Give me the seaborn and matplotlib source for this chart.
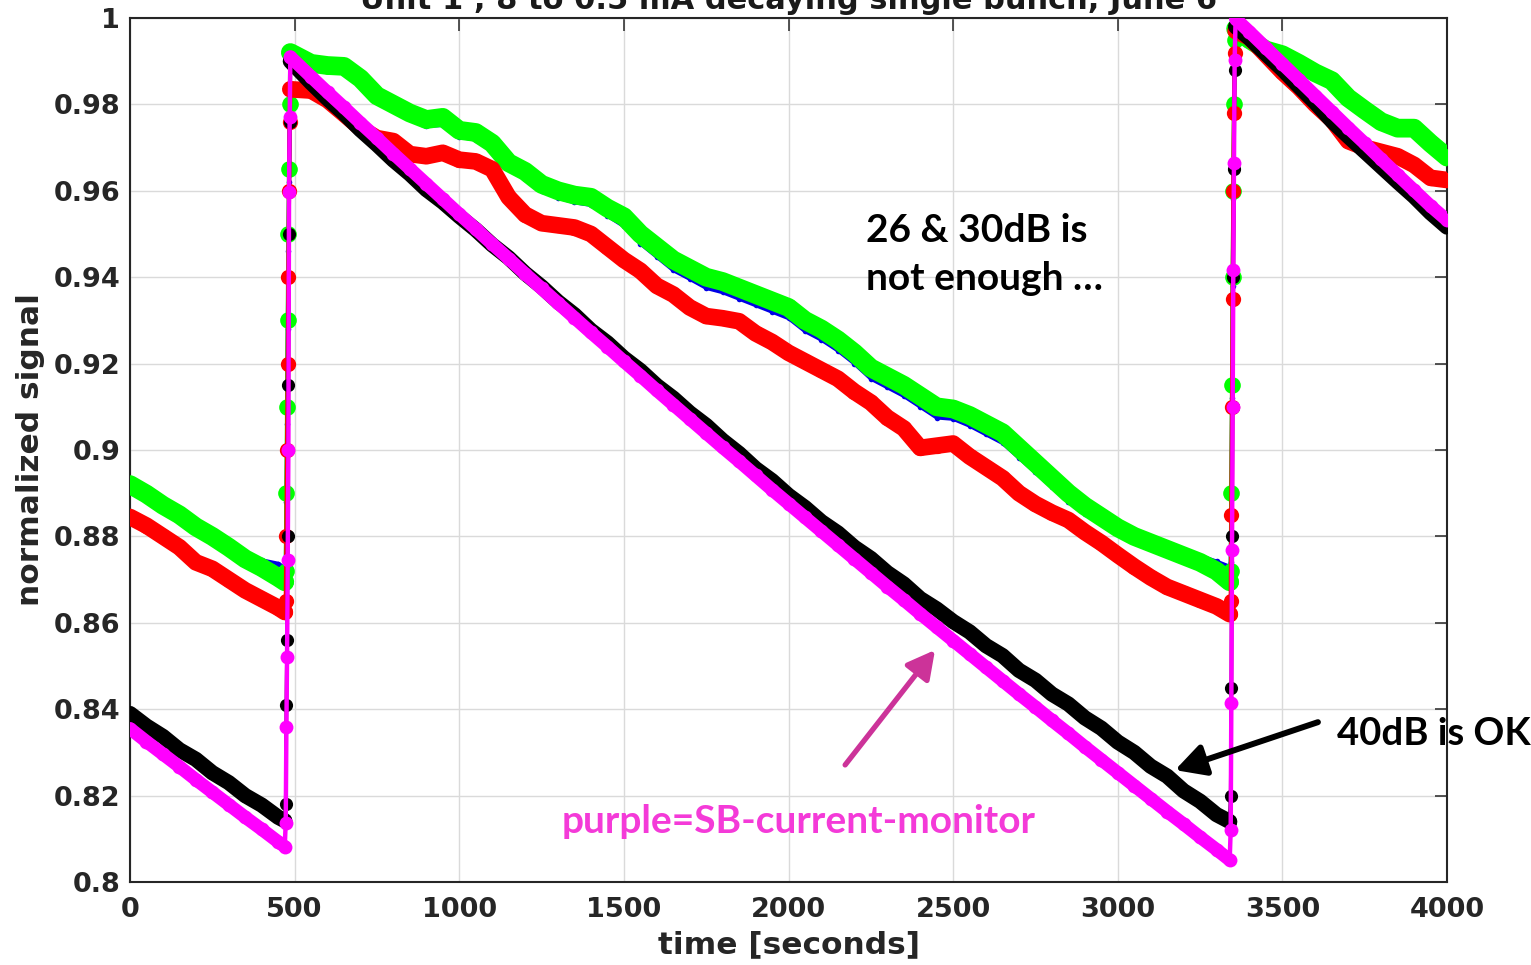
import numpy as np
import pandas as pd
import matplotlib
matplotlib.use("Agg")
import matplotlib.pyplot as plt
from matplotlib.ticker import FuncFormatter
import seaborn as sns

# ---------------- data ----------------
# sample times [s]: three decays separated by two injections
t_decay1 = [0, 50, 100, 150, 200, 250, 300, 350, 400, 450, 470]
t_inj1 = [473, 475, 477, 479, 481, 483, 485]
t_decay2 = [487] + list(range(550, 3301, 50)) + [3340]
t_inj2 = [3343, 3345, 3347, 3349, 3351, 3353, 3355]
t_decay3 = [3358] + list(range(3400, 4001, 50))

sig_blue = (
    [0.8905, 0.8884, 0.8862, 0.8840, 0.8820, 0.8800, 0.8780, 0.8762, 0.8745, 0.8737, 0.8728]
    + [0.8740, 0.8880, 0.9060, 0.9280, 0.9460, 0.9620, 0.9790]
    + [0.9915, 0.9885, 0.9878, 0.9872, 0.9845, 0.9808, 0.9787, 0.9766, 0.9750, 0.9752,
       0.9725, 0.9718, 0.9694, 0.9650, 0.9628, 0.9600, 0.9584, 0.9573, 0.9567, 0.9542,
       0.9518, 0.9478, 0.9447, 0.9416, 0.9396, 0.9375, 0.9365, 0.9350, 0.9335, 0.9320,
       0.9305, 0.9275, 0.9255, 0.9230, 0.9200, 0.9165, 0.9145, 0.9125, 0.9100, 0.9075,
       0.9072, 0.9056, 0.9036, 0.9016, 0.8982, 0.8948, 0.8914, 0.8880, 0.8852, 0.8830,
       0.8810, 0.8795, 0.8785, 0.8775, 0.8765, 0.8755, 0.8742, 0.8730]
    + [0.8740, 0.8900, 0.9120, 0.9380, 0.9580, 0.9780, 0.9940]
    + [0.9970, 0.9942, 0.9918, 0.9905, 0.9886, 0.9864, 0.9845, 0.9806, 0.9778, 0.9752,
       0.9736, 0.9735, 0.9700, 0.9668]
)

sig_green = (
    [0.8920, 0.8898, 0.8872, 0.8850, 0.8822, 0.8800, 0.8775, 0.8748, 0.8728, 0.8705, 0.8695]
    + [0.8720, 0.8900, 0.9100, 0.9300, 0.9500, 0.9650, 0.9800]
    + [0.9920, 0.9895, 0.9890, 0.9888, 0.9860, 0.9820, 0.9800, 0.9780, 0.9765, 0.9770,
       0.9740, 0.9735, 0.9710, 0.9665, 0.9645, 0.9615, 0.9600, 0.9590, 0.9585, 0.9560,
       0.9540, 0.9500, 0.9470, 0.9440, 0.9420, 0.9400, 0.9390, 0.9375, 0.9360, 0.9345,
       0.9330, 0.9300, 0.9280, 0.9255, 0.9225, 0.9190, 0.9170, 0.9150, 0.9125, 0.9100,
       0.9095, 0.9080, 0.9060, 0.9040, 0.9005, 0.8970, 0.8935, 0.8900, 0.8870, 0.8845,
       0.8820, 0.8800, 0.8785, 0.8770, 0.8755, 0.8740, 0.8720, 0.8695]
    + [0.8720, 0.8900, 0.9150, 0.9400, 0.9600, 0.9800, 0.9950]
    + [0.9975, 0.9950, 0.9926, 0.9915, 0.9895, 0.9873, 0.9855, 0.9815, 0.9787, 0.9760,
       0.9745, 0.9745, 0.9710, 0.9678]
)

sig_red = (
    [0.8845, 0.8825, 0.8800, 0.8775, 0.8740, 0.8725, 0.8700, 0.8675, 0.8655, 0.8635, 0.8625]
    + [0.8650, 0.8800, 0.9000, 0.9200, 0.9400, 0.9600, 0.9760]
    + [0.9835, 0.9832, 0.9810, 0.9778, 0.9745, 0.9722, 0.9715, 0.9685, 0.9680, 0.9688,
       0.9672, 0.9668, 0.9650, 0.9585, 0.9545, 0.9525, 0.9520, 0.9515, 0.9500, 0.9470,
       0.9440, 0.9415, 0.9380, 0.9360, 0.9330, 0.9310, 0.9305, 0.9298, 0.9270, 0.9250,
       0.9225, 0.9205, 0.9185, 0.9165, 0.9135, 0.9110, 0.9075, 0.9050, 0.9005, 0.9010,
       0.9015, 0.8985, 0.8960, 0.8935, 0.8900, 0.8875, 0.8855, 0.8838, 0.8810, 0.8785,
       0.8757, 0.8730, 0.8705, 0.8683, 0.8668, 0.8653, 0.8638, 0.8620]
    + [0.8650, 0.8850, 0.9100, 0.9350, 0.9600, 0.9780, 0.9920]
    + [0.9970, 0.9955, 0.9915, 0.9875, 0.9840, 0.9800, 0.9765, 0.9715, 0.9700, 0.9690,
       0.9680, 0.9660, 0.9630, 0.9625]
)

sig_black = (
    [0.8390, 0.8361, 0.8337, 0.8306, 0.8284, 0.8253, 0.8230, 0.8200, 0.8178, 0.8150, 0.8142]
    + [0.8180, 0.8410, 0.8560, 0.8800, 0.9150, 0.9500, 0.9760]
    + [0.9900, 0.9850, 0.9813, 0.9779, 0.9741, 0.9707, 0.9671, 0.9639, 0.9603, 0.9574,
       0.9541, 0.9510, 0.9475, 0.9445, 0.9409, 0.9378, 0.9343, 0.9313, 0.9277, 0.9248,
       0.9213, 0.9184, 0.9149, 0.9120, 0.9086, 0.9057, 0.9022, 0.8992, 0.8957, 0.8929,
       0.8895, 0.8867, 0.8834, 0.8808, 0.8775, 0.8749, 0.8716, 0.8690, 0.8656, 0.8632,
       0.8603, 0.8579, 0.8547, 0.8524, 0.8490, 0.8467, 0.8435, 0.8412, 0.8380, 0.8356,
       0.8324, 0.8300, 0.8268, 0.8245, 0.8211, 0.8187, 0.8156, 0.8140]
    + [0.8200, 0.8450, 0.8800, 0.9100, 0.9400, 0.9650, 0.9880]
    + [0.9980, 0.9953, 0.9917, 0.9881, 0.9842, 0.9804, 0.9762, 0.9726, 0.9691, 0.9656,
       0.9621, 0.9587, 0.9549, 0.9516]
)

sig_monitor = (
    [0.8355, 0.8325, 0.8296, 0.8267, 0.8237, 0.8208, 0.8179, 0.8150, 0.8122, 0.8093, 0.8082]
    + [0.8137, 0.8359, 0.8521, 0.8745, 0.9000, 0.9597, 0.9771]
    + [0.9910, 0.9864, 0.9828, 0.9793, 0.9757, 0.9722, 0.9686, 0.9651, 0.9616, 0.9581,
       0.9546, 0.9512, 0.9477, 0.9443, 0.9408, 0.9374, 0.9340, 0.9306, 0.9272, 0.9239,
       0.9205, 0.9172, 0.9138, 0.9105, 0.9072, 0.9039, 0.9006, 0.8974, 0.8941, 0.8908,
       0.8876, 0.8844, 0.8812, 0.8780, 0.8748, 0.8716, 0.8684, 0.8653, 0.8621, 0.8590,
       0.8559, 0.8528, 0.8497, 0.8466, 0.8435, 0.8405, 0.8374, 0.8344, 0.8313, 0.8283,
       0.8253, 0.8223, 0.8193, 0.8163, 0.8134, 0.8104, 0.8075, 0.8051]
    + [0.8120, 0.8414, 0.8769, 0.9100, 0.9417, 0.9664, 0.9903]
    + [0.9998, 0.9968, 0.9931, 0.9894, 0.9857, 0.9820, 0.9783, 0.9746, 0.9710, 0.9673,
       0.9637, 0.9601, 0.9565, 0.9532]
)

x_ticks = [0, 500, 1000, 1500, 2000, 2500, 3000, 3500, 4000]
y_ticks = [0.80, 0.82, 0.84, 0.86, 0.88, 0.90, 0.92, 0.94, 0.96, 0.98, 1.00]

# ---------------- table ----------------
phases = [("decay", 1, t_decay1), ("inj", 2, t_inj1), ("decay", 3, t_decay2),
          ("inj", 4, t_inj2), ("decay", 5, t_decay3)]
time = []
phase = []
segment = []
for ph, sid, ts in phases:
    time += ts
    phase += [ph] * len(ts)
    segment += [sid] * len(ts)

series = {"blue": sig_blue, "green": sig_green, "red": sig_red,
          "black (40dB)": sig_black, "SB current monitor": sig_monitor}
frames = []
for name, vals in series.items():
    assert len(vals) == len(time), (name, len(vals), len(time))
    frames.append(pd.DataFrame({"time": time, "signal": vals, "series": name,
                                "phase": phase, "segment": segment}))
df = pd.concat(frames, ignore_index=True)

# ---------------- style ----------------
sns.set_theme(style="white")
plt.rcParams["font.family"] = ["DejaVu Sans"]
plt.rcParams["axes.edgecolor"] = "#262626"

styles = {
    "blue": dict(color="#0000e6", band=0, thin=2.8, ms=4.0),
    "green": dict(color="#00ff00", band=13.5, thin=3.0, ms=12.0),
    "red": dict(color="#ff0000", band=12.0, thin=3.0, ms=11.0),
    "black (40dB)": dict(color="#000000", band=11.0, thin=2.6, ms=9.5),
    "SB current monitor": dict(color="#ff00ff", band=9.5, thin=3.2, ms=10.0),
}

fig = plt.figure(figsize=(15.31, 9.65), dpi=100)
ax = fig.add_axes([130 / 1531, 83 / 965, 1317 / 1531, 864 / 965])

for name in series:
    st = styles[name]
    d = df[df["series"] == name]
    if st["band"] > 0:
        sns.lineplot(data=d[d["phase"] == "decay"], x="time", y="signal",
                     units="segment", estimator=None, sort=False, color=st["color"],
                     lw=st["band"], solid_capstyle="round", solid_joinstyle="round",
                     legend=False, ax=ax, zorder=3)
    sns.lineplot(data=d, x="time", y="signal", estimator=None, sort=False,
                 color=st["color"], lw=st["thin"], marker="o", markersize=st["ms"],
                 markeredgewidth=0, legend=False, ax=ax, zorder=3)

ax.set_xlim(0, 4000)
ax.set_ylim(0.8, 1.0)
ax.set_xticks(x_ticks)
ax.set_yticks(y_ticks)
ax.yaxis.set_major_formatter(FuncFormatter(lambda v, p: f"{v:g}"))
ax.grid(True, color="#dadada", lw=1.0, zorder=0)
ax.set_axisbelow(True)
ax.tick_params(direction="in", length=9, width=1.1, top=True, right=True,
               labelsize=19.5, labelcolor="#262626", color="#262626")
ax.tick_params(axis="x", pad=11)
ax.tick_params(axis="y", pad=7)
for lbl in ax.get_xticklabels() + ax.get_yticklabels():
    lbl.set_fontweight("bold")
for sp in ax.spines.values():
    sp.set_linewidth(1.5)
    sp.set_color("#262626")

ax.set_xlabel("time [seconds]", fontsize=22.5, fontweight="bold", color="#262626", labelpad=5)
ax.set_ylabel("normalized signal", fontsize=22.5, fontweight="bold", color="#262626", labelpad=6)
ax.set_title("Unit 1 , 8 to 0.5 mA decaying single bunch, June 6", fontsize=22,
             fontweight="bold", color="#1a1a1a", pad=6.5)

# ---------------- annotations ----------------
ann_font = dict(family=["Lato", "DejaVu Sans"], fontweight="bold")
ax.text(2235, 0.9482, "26 & 30dB is", fontsize=28, color="black", va="baseline", **ann_font)
ax.text(2235, 0.9370, "not enough …", fontsize=28, color="black", va="baseline", **ann_font)
ax.text(3666, 0.8317, "40dB is OK", fontsize=27.5, color="black", va="baseline",
        clip_on=False, **ann_font)
ax.text(1312, 0.8113, "purple=SB-current-monitor", fontsize=28, color="#f43ad8",
        va="baseline", **ann_font)

ax.annotate("", xy=(3174, 0.8259), xytext=(3608, 0.8370),
            arrowprops=dict(arrowstyle="-|>,head_length=0.6,head_width=0.32",
                            color="black", lw=4.3, mutation_scale=30,
                            shrinkA=0, shrinkB=0), zorder=6)
ax.annotate("", xy=(2445, 0.8537), xytext=(2172, 0.8271),
            arrowprops=dict(arrowstyle="-|>,head_length=0.6,head_width=0.32",
                            color="#cc3399", lw=3.8, mutation_scale=28,
                            shrinkA=0, shrinkB=0), zorder=6)

fig.savefig("out.png", dpi=100)
